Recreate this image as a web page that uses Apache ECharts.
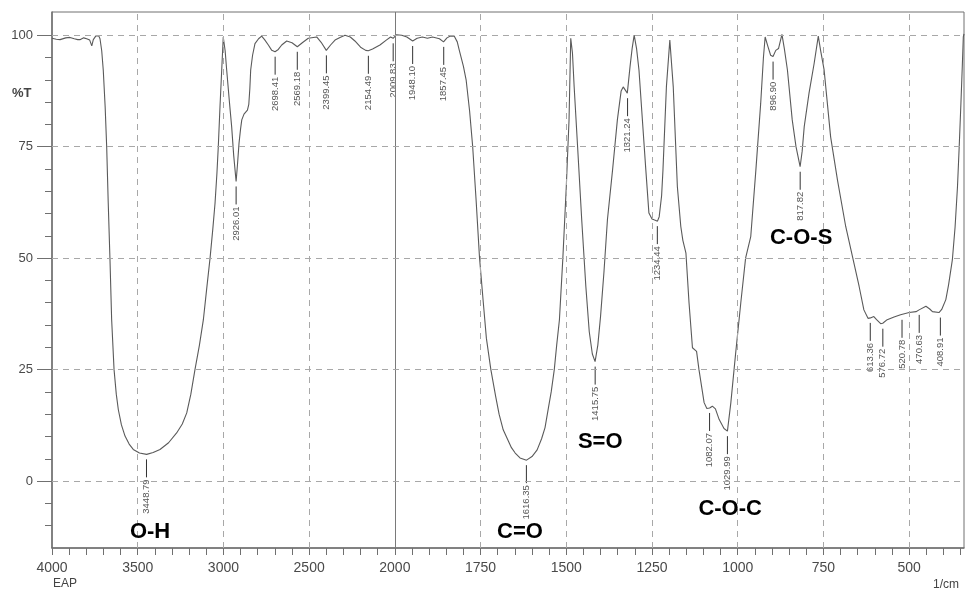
<!DOCTYPE html>
<html><head><meta charset="utf-8">
<script src="https://cdn.jsdelivr.net/npm/echarts@6/dist/echarts.min.js"></script>
<style>html,body{margin:0;padding:0;background:#fff}#c{width:965px;height:591px}</style>
</head><body><div id="c"></div>
<script>
const wavenumbers = [4000,3975,3953,3920,3895,3870,3850,3837,3815,3798,3780,3768,3759,3745,3736,3728,3720,3710,3701,3690,3681,3672,3662,3652,3638,3625,3613,3595,3574,3550,3526,3490,3448,3410,3370,3320,3273,3240,3214,3190,3166,3140,3117,3098,3078,3062,3049,3038,3030,3020,3010,3001,2990,2981,2965,2952,2940,2926,2918,2909,2900,2893,2880,2870,2860,2852,2846,2841,2830,2816,2795,2777,2760,2738,2718,2699,2680,2660,2631,2600,2569,2540,2505,2456,2430,2400,2375,2349,2320,2291,2260,2233,2200,2170,2155,2130,2087,2050,2025,2010,1995,1980,1965,1948,1935,1920,1905,1890,1870,1858,1848,1838,1827,1818,1812,1800,1792,1782,1773,1763,1753,1742,1733,1720,1706,1696,1684,1672,1660,1649,1635,1616,1600,1585,1572,1562,1552,1544,1535,1528,1520,1510,1500,1492,1487,1482,1477,1467,1455,1443,1433,1424,1416,1408,1400,1390,1380,1365,1351,1340,1334,1322,1314,1308,1302,1295,1288,1278,1268,1259,1250,1244,1234,1229,1222,1218,1208,1198,1188,1176,1166,1160,1151,1142,1132,1120,1113,1098,1090,1082,1074,1065,1054,1040,1030,1020,1006,991,977,962,947,933,925,920,912,904,897,889,881,871,864,855,841,830,818,812,806,792,777,765,758,748,729,709,685,661,646,632,620,613,603,595,583,577,564,544,525,500,480,471,451,440,432,413,405,393,385,374,366,359,354,349,345,342,340];
const transmittance = [99.3,99.1,99.0,99.4,99.5,99.2,99.0,99.0,99.4,99.2,98.9,97.6,99.0,99.8,100.0,99.9,99.2,96.5,92.2,84.0,75.0,62.4,50.0,36.2,25.0,19.5,16.0,12.6,10.1,8.3,7.1,6.3,6.0,6.4,7.1,8.6,10.8,12.8,15.3,19.5,25.0,30.5,36.2,43.0,50.0,56.5,62.3,69.0,75.0,84.0,92.2,99.6,96.5,92.2,85.0,79.5,73.0,67.2,71.0,75.8,79.0,81.0,82.3,82.6,83.2,84.5,88.0,92.2,95.5,98.1,99.2,99.8,99.0,97.8,96.6,96.3,96.8,97.8,98.7,98.3,97.4,98.3,99.3,99.6,98.4,96.6,97.8,98.9,99.5,100.0,99.6,98.7,97.3,96.6,96.5,96.9,97.8,98.9,99.6,99.3,100.1,100.0,99.6,98.7,99.3,99.6,99.3,99.6,99.2,98.5,99.4,99.8,99.8,98.5,96.6,93.0,89.9,83.0,75.0,63.0,50.0,40.0,32.0,25.0,19.0,15.0,11.5,9.5,7.5,6.3,5.2,4.7,5.5,7.0,9.5,12.0,16.5,20.0,25.0,30.5,36.2,50.0,66.0,81.0,99.3,96.0,88.4,75.0,58.6,43.7,33.5,28.5,26.8,30.5,37.0,47.0,58.6,69.8,81.0,87.5,88.4,87.0,93.0,97.0,100.0,97.0,92.2,81.0,69.8,60.1,58.8,58.6,58.3,59.3,64.0,69.8,88.4,98.9,88.4,66.0,57.1,54.0,51.1,40.0,29.9,29.1,25.0,17.6,16.3,16.4,16.8,16.2,13.8,11.8,11.2,17.6,28.7,40.0,50.0,54.8,69.8,84.7,95.0,99.6,97.5,95.5,95.2,96.6,97.0,100.2,97.0,92.2,81.0,75.0,70.5,74.0,79.5,87.0,93.7,99.8,96.5,92.2,77.2,67.5,57.1,48.9,43.7,38.4,36.5,36.6,36.9,36.2,35.3,35.4,36.2,36.8,37.3,37.8,38.0,38.4,39.2,38.6,38.0,37.8,38.5,40.7,44.0,49.6,57.0,66.0,75.0,84.7,93.0,99.6,100.3];

const xTickLabels = [4000,3500,3000,2500,2000,1750,1500,1250,1000,750,500];
const yTickLabels = [0,25,50,75,100];

const peakWn = [3448.79,2926.01,2698.41,2569.18,2399.45,2154.49,2009.83,1948.10,1857.45,1616.35,1415.75,1321.24,1234.44,1082.07,1029.99,896.90,817.82,613.36,576.72,520.78,470.63,408.91];
const peakT  = [6.0,67.2,96.3,97.4,96.6,96.5,99.3,98.7,98.5,4.7,26.8,87.0,58.3,16.4,11.2,95.2,70.5,36.6,35.3,37.3,38.4,37.8];
const peakText = ['3448.79','2926.01','2698.41','2569.18','2399.45','2154.49','2009.83','1948.10','1857.45','1616.35','1415.75','1321.24','1234.44','1082.07','1029.99','896.90','817.82','613.36','576.72','520.78','470.63','408.91'];

const bandText = ['O-H','C=O','S=O','C-O-C','C-O-S'];
const bandWn = [3428,1635,1401,1022,815];
const bandT = [-11.5,-11.5,8.7,-6.3,54.5];

// Shimadzu-style axis: 4000-2000 compressed by 2x
function toT(w){ return w > 2000 ? 2000 + (w - 2000) / 2 : w; }
function toX(w){ return -toT(w); }
function fromX(v){ const t = -v; return t > 2000 ? 2000 + 2 * (t - 2000) : t; }

const X_MIN = toX(4000), X_MAX = toX(340);
const xMajor = xTickLabels.map(toX);
const xAllTicks = [];
for (let t = 3000; t >= 350; t -= 50) xAllTicks.push(-t);
const yMinor = [];
for (let v = -10; v <= 100; v += 5) if (v % 25 !== 0) yMinor.push(v);

const spectrum = wavenumbers.map((w, i) => [toX(w), transmittance[i]]);

const FONT = '"Liberation Sans", Arial, sans-serif';
const chart = echarts.init(document.getElementById('c'), null, {renderer: 'canvas'});

const gridLines = [];
xTickLabels.forEach(w => {
  if (w === 4000) return;
  if (w === 2000) gridLines.push({xAxis: toX(w), lineStyle: {type: 'solid', color: '#7a7a7a', width: 1}});
  else gridLines.push({xAxis: toX(w)});
});
yTickLabels.forEach(v => gridLines.push({yAxis: v}));

chart.setOption({
  animation: false,
  backgroundColor: '#fff',
  grid: {left: 52, right: 1, top: 12, bottom: 43, show: true, borderColor: '#707070', borderWidth: 1},
  xAxis: {
    type: 'value', min: X_MIN, max: X_MAX,
    axisLine: {show: true, onZero: false, lineStyle: {color: '#707070', width: 1.5}},
    axisTick: {show: true, customValues: xAllTicks, length: 7, inside: false, lineStyle: {color: '#707070', width: 1}},
    axisLabel: {customValues: xMajor, formatter: v => String(Math.round(fromX(v))), color: '#4a4a4a', fontFamily: FONT, fontSize: 14, margin: 13},
    splitLine: {show: false}
  },
  yAxis: [{
    type: 'value', min: -15, max: 105.2,
    axisLine: {show: true, onZero: false, lineStyle: {color: '#707070', width: 1.5}},
    axisTick: {show: true, customValues: yTickLabels, length: 15, lineStyle: {color: '#707070', width: 1}},
    axisLabel: {customValues: yTickLabels, color: '#4a4a4a', fontFamily: FONT, fontSize: 13, margin: 19},
    splitLine: {show: false}
  }, {
    type: 'value', min: -15, max: 105.2, position: 'left',
    axisLine: {show: false, onZero: false},
    axisTick: {show: true, customValues: yMinor, length: 7, lineStyle: {color: '#707070', width: 1}},
    axisLabel: {show: false},
    splitLine: {show: false}
  }],
  graphic: [
    {type: 'text', left: 12, top: 87, style: {text: '%T', font: 'bold 13px ' + FONT, fill: '#444'}},
    {type: 'text', left: 53, top: 578, style: {text: 'EAP', font: '12px ' + FONT, fill: '#444'}},
    {type: 'text', left: 933, top: 579, style: {text: '1/cm', font: '12px ' + FONT, fill: '#444'}}
  ],
  series: [
    {
      type: 'line', data: spectrum, symbol: 'none', smooth: false, silent: true, z: 3,
      lineStyle: {color: '#5a5a5a', width: 1.1},
      markLine: {
        silent: true, symbol: 'none', label: {show: false}, animation: false,
        lineStyle: {type: [6, 5], color: '#a8a8a8', width: 1},
        data: gridLines
      }
    },
    {
      type: 'custom', coordinateSystem: 'cartesian2d', silent: true, z: 4,
      data: peakWn.map((w, i) => [toX(w), peakT[i], i]),
      renderItem: function (params, api) {
        const i = api.value(2);
        const p = api.coord([api.value(0), api.value(1)]);
        return {type: 'group', children: [
          {type: 'line', shape: {x1: p[0], y1: p[1] + 5, x2: p[0], y2: p[1] + 23}, style: {stroke: '#333', lineWidth: 1}},
          {type: 'text', x: p[0], y: p[1] + 25, rotation: Math.PI / 2,
           style: {text: peakText[i], font: '9.5px ' + FONT, fill: '#555', align: 'right', verticalAlign: 'middle'}}
        ]};
      }
    },
    {
      type: 'custom', coordinateSystem: 'cartesian2d', silent: true, z: 5,
      data: bandWn.map((w, i) => [toX(w), bandT[i], i]),
      renderItem: function (params, api) {
        const i = api.value(2);
        const p = api.coord([api.value(0), api.value(1)]);
        return {type: 'text', x: p[0], y: p[1],
          style: {text: bandText[i], font: 'bold 22px ' + FONT, fill: '#000', align: 'center', verticalAlign: 'middle'}};
      }
    }
  ]
});
</script>
</body></html>
